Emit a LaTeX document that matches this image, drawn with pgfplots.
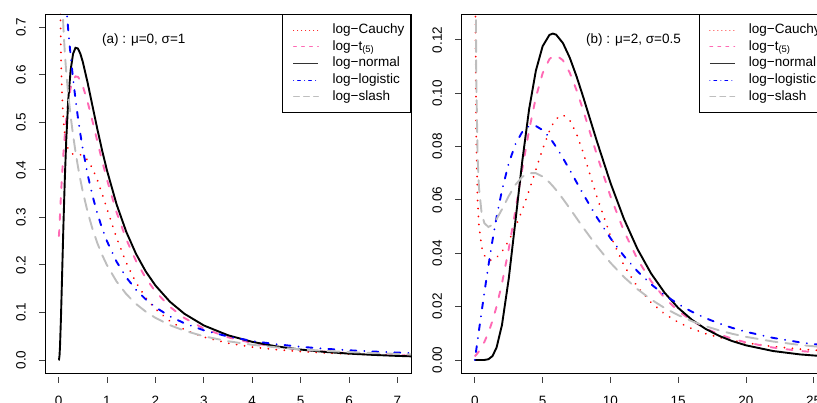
\documentclass[border=0pt]{standalone}
\usepackage{fontspec}
\setmainfont{Liberation Sans}
\usepackage{pgfplots}
\usepackage{pgfplotstable}
\pgfplotsset{compat=1.18}

\definecolor{rred}{RGB}{255,0,0}
\definecolor{rpink}{RGB}{255,105,180}
\definecolor{rblue}{RGB}{0,0,255}
\definecolor{rgray}{RGB}{190,190,190}

% panel (a): mu=0, sigma=1
\pgfplotstableread{
x     ln      lc      lt      ll      ls
0     0       nan     nan     1       nan
0.007 0.0003  1.775   0.2609  0.9861  2.3149
0.01  0.0010  1.4333  0.2636  0.9803  1.8810
0.02  0.0095  0.9762  0.2835  0.9612  1.3028
0.03  0.0285  0.7980  0.3057  0.9426  1.0792
0.05  0.0898  0.6383  0.3478  0.9070  0.8791
0.07  0.1660  0.5633  0.3853  0.8734  0.7824
0.1   0.2815  0.5051  0.4340  0.8264  0.6993
0.13  0.3831  0.4743  0.4746  0.7831  0.6453
0.16  0.4652  0.4565  0.5079  0.7432  0.6040
0.2   0.5464  0.4433  0.5426  0.6944  0.5592
0.25  0.6104  0.4357  0.5723  0.6400  0.5127
0.3   0.6442  0.4331  0.5896  0.5917  0.4730
0.35  0.6569  0.4326  0.5967  0.5487  0.4382
0.4   0.6554  0.4326  0.5957  0.5102  0.4072
0.45  0.6445  0.4319  0.5885  0.4756  0.3796
0.5   0.6275  0.4300  0.5765  0.4444  0.3546
0.6   0.5836  0.4207  0.5431  0.3906  0.3117
0.7   0.5348  0.4034  0.5029  0.3460  0.2761
0.8   0.4864  0.3790  0.4606  0.3086  0.2463
0.9   0.4408  0.3498  0.4190  0.2770  0.2210
1.0   0.3989  0.3183  0.3796  0.2500  0.1995
1.2   0.3270  0.2567  0.3101  0.2066  0.1649
1.4   0.2693  0.2042  0.2535  0.1736  0.1385
1.6   0.2233  0.1629  0.2084  0.1479  0.1180
1.8   0.1865  0.1314  0.1726  0.1276  0.1018
2.0   0.1569  0.1075  0.1441  0.1111  0.0887
2.3   0.1226  0.0817  0.1118  0.0918  0.0733
2.6   0.0972  0.0640  0.0883  0.0772  0.0616
3.0   0.0727  0.0481  0.0661  0.0625  0.0499
3.5   0.0520  0.0354  0.0478  0.0494  0.0395
4.0   0.0382  0.0272  0.0358  0.0400  0.0320
4.5   0.0286  0.0217  0.0275  0.0331  0.0265
5.0   0.0219  0.0177  0.0217  0.0278  0.0224
5.5   0.0170  0.0148  0.0175  0.0237  0.0191
6.0   0.0134  0.0126  0.0143  0.0204  0.0166
6.5   0.0107  0.0109  0.0119  0.0178  0.0145
7.0   0.0086  0.0095  0.0100  0.0156  0.0128
7.3   0.0076  0.0088  0.0091  0.0145  0.0119
}\dataA

% panel (b): mu=2, sigma=0.5
\pgfplotstableread{
x     ln       lc       lt       ll       ls
0     0        nan      nan      0        nan
0.01  0        0.3627   0.00164  0.00037  0.4573
0.03  0        0.1735   0.00157  0.00110  0.2193
0.05  0        0.1263   0.00165  0.00183  0.1598
0.1   0        0.0848   0.00192  0.00366  0.1078
0.2   0        0.0599   0.00255  0.00732  0.0766
0.3   0        0.0505   0.00324  0.01095  0.0648
0.5   0        0.0424   0.00482  0.01815  0.0550
0.7   0        0.0392   0.00673  0.02519  0.0513
1.0   0.00027  0.03745  0.01025  0.03533  0.04985
1.3   0.00146  0.03745  0.01466  0.04480  0.05070
1.6   0.00462  0.03839  0.02002  0.05348  0.05276
2.0   0.01311  0.04064  0.02865  0.06360  0.05648
2.5   0.03048  0.04469  0.04162  0.07373  0.06145
3.0   0.05237  0.04993  0.05634  0.08099  0.06572
3.5   0.07462  0.05625  0.07164  0.08553  0.06866
4.0   0.09392  0.06350  0.08613  0.08764  0.07007
4.5   0.10842  0.07132  0.09843  0.08771  0.07003
5.0   0.11762  0.07908  0.10749  0.08617  0.06876
5.5   0.12186  0.08583  0.11276  0.08346  0.06656
5.75  0.12236  0.08846  0.11395  0.08171  0.06519
6.0   0.12193  0.09042  0.11423  0.07982  0.06369
6.5   0.11878  0.09190  0.11232  0.07567  0.06038
7.0   0.11332  0.08990  0.10770  0.07122  0.05683
7.5   0.10634  0.08481  0.10117  0.06665  0.05318
8.0   0.09849  0.07762  0.09348  0.06211  0.04955
9.0   0.08202  0.06121  0.07695  0.05346  0.04265
10    0.06644  0.04660  0.06141  0.04569  0.03646
11    0.05285  0.03543  0.04826  0.03896  0.03108
12    0.04154  0.02734  0.03772  0.03322  0.02652
13    0.03242  0.02151  0.02952  0.02839  0.02268
14    0.02518  0.01727  0.02322  0.02434  0.01947
15    0.01952  0.01412  0.01840  0.02095  0.01679
16    0.01511  0.01175  0.01471  0.01811  0.01456
17    0.01171  0.00991  0.01187  0.01572  0.01269
18    0.00908  0.00848  0.00966  0.01371  0.01112
19    0.00705  0.00734  0.00794  0.01201  0.00979
20    0.00549  0.00641  0.00658  0.01057  0.00867
22    0.00335  0.00502  0.00464  0.00828  0.00691
24    0.00207  0.00405  0.00337  0.00659  0.00562
26    0.00129  0.00334  0.00251  0.00532  0.00464
}\dataB

\newcommand{\rfont}{\fontsize{13.5}{16}\selectfont}

\pgfplotsset{
  rpanel/.style={
    scale only axis, width=366pt, height=359.3pt,
    anchor=south west,
    axis line style={black, line width=0.9pt},
    tick align=outside, major tick length=6pt,
    xtick pos=bottom, ytick pos=left,
    tick style={black!75, line width=0.9pt},
    major x tick style={yshift=-3.7pt},
    tick label style={font=\rfont, inner sep=0pt},
    xticklabel style={anchor=north},
    yticklabel style={rotate=90, anchor=south},
    xticklabel shift=17pt,
    yticklabel shift=13pt,
    legend image code/.code={\path (0pt,0pt); \draw[##1] (4pt,0pt) -- (29pt,0pt);},
    legend cell align=left,
    legend style={at={(1,1)}, anchor=north east, draw=black,
      line width=0.8pt, fill=white, inner xsep=6.3pt, inner ysep=9.5pt,
      row sep=4.2pt, column sep=13.7pt, font=\rfont,
      nodes={inner sep=0pt, text height=9.5pt, text depth=3pt}},
  },
  cauchy/.style={rred, line width=1.9pt, line cap=round, dash pattern=on 0.1pt off 7.9pt},
  tfive/.style={rpink, line width=1.9pt, line cap=round, dash pattern=on 6pt off 10pt},
  lnorm/.style={black, line width=1.9pt},
  logis/.style={rblue, line width=1.9pt, line cap=round, dash pattern=on 0.1pt off 7.9pt on 6pt off 8pt},
  slash/.style={rgray, line width=1.9pt, line cap=round, dash pattern=on 12pt off 8pt},
}

\newcommand{\rlegend}{%
  \addlegendimage{rred, line width=0.9pt, line cap=round, dash pattern=on 0.1pt off 3.9pt}
  \addlegendentry{log−Cauchy}
  \addlegendimage{rpink, line width=0.9pt, line cap=round, dash pattern=on 3pt off 5pt}
  \addlegendentry{log−t\textsubscript{(5)}}
  \addlegendimage{black!80, line width=0.9pt}
  \addlegendentry{log−normal}
  \addlegendimage{rblue, line width=0.9pt, line cap=round, dash pattern=on 0.1pt off 3.9pt on 3pt off 4pt}
  \addlegendentry{log−logistic}
  \addlegendimage{rgray, line width=0.9pt, line cap=round, dash pattern=on 6pt off 4pt}
  \addlegendentry{log−slash}
}

\begin{document}
\begin{tikzpicture}
\begin{axis}[rpanel, at={(45pt,29.7pt)},
  xmin=-0.28, xmax=7.28, ymin=-0.028, ymax=0.728,
  xtick={0,1,2,3,4,5,6,7}, xticklabels={0,1,2,3,4,5,6,7},
  ytick={0,0.1,0.2,0.3,0.4,0.5,0.6,0.7},
  yticklabels={0.0,0.1,0.2,0.3,0.4,0.5,0.6,0.7}]
\rlegend
\addplot[cauchy, forget plot] table[x=x, y=lc] {\dataA};
\addplot[tfive, forget plot] table[x=x, y=lt] {\dataA};
\addplot[lnorm, forget plot] table[x=x, y=ln] {\dataA};
\addplot[logis, forget plot] table[x=x, y=ll] {\dataA};
\addplot[slash, forget plot] table[x=x, y=ls] {\dataA};
\node[font=\rfont] at (axis cs:1.76,0.674) {(a) : μ=0, σ=1};
\end{axis}

\begin{axis}[rpanel, at={(461.3pt,29.7pt)},
  xmin=-1, xmax=26, ymin=-0.005, ymax=0.1297,
  xtick={0,5,10,15,20,25}, xticklabels={0,5,10,15,20,25},
  ytick={0,0.02,0.04,0.06,0.08,0.10,0.12},
  yticklabels={0.00,0.02,0.04,0.06,0.08,0.10,0.12}]
\rlegend
\addplot[cauchy, forget plot] table[x=x, y=lc] {\dataB};
\addplot[tfive, forget plot] table[x=x, y=lt] {\dataB};
\addplot[lnorm, forget plot] table[x=x, y=ln] {\dataB};
\addplot[logis, forget plot] table[x=x, y=ll] {\dataB};
\addplot[slash, forget plot] table[x=x, y=ls] {\dataB};
\node[font=\rfont] at (axis cs:11.7,0.1200) {(b) : μ=2, σ=0.5};
\end{axis}
\pgfresetboundingbox
\path[use as bounding box] (0pt,0pt) rectangle (817pt,403pt);
\end{tikzpicture}
\end{document}
